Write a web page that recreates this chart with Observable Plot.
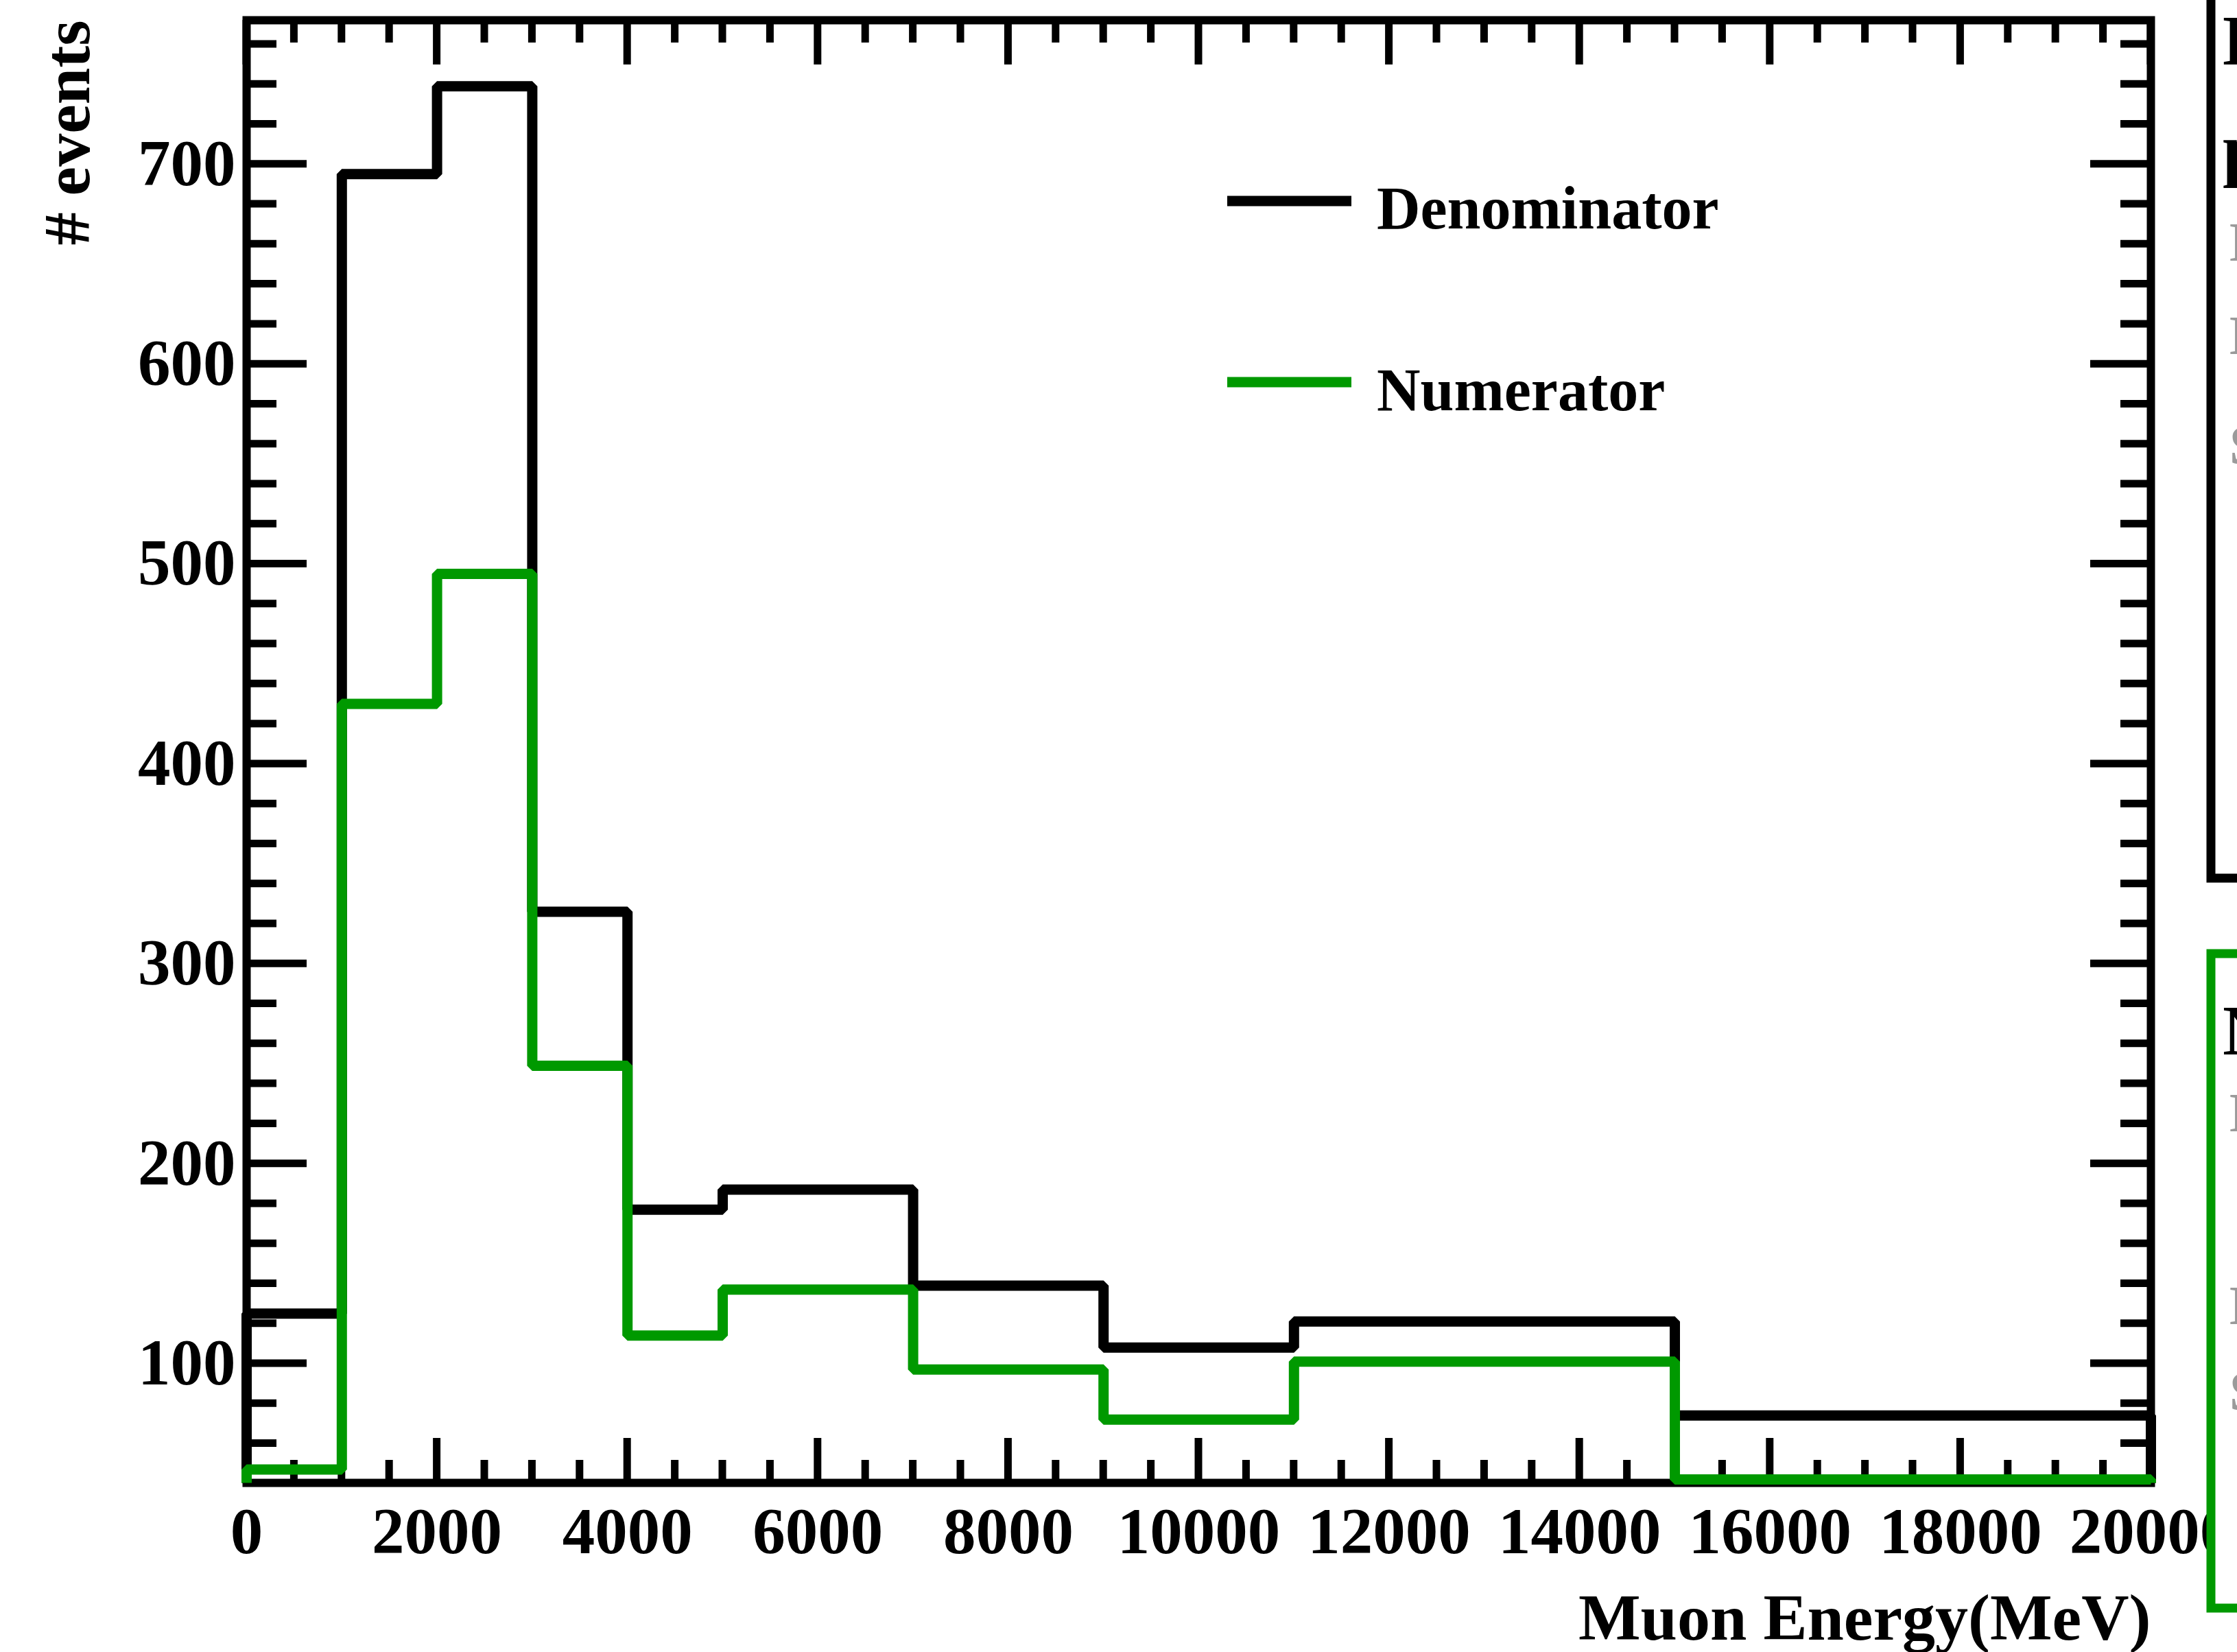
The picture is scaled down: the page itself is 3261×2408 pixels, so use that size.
<!DOCTYPE html>
<html><head><meta charset="utf-8">
<script src="https://cdn.jsdelivr.net/npm/d3@7"></script>
<script src="https://cdn.jsdelivr.net/npm/@observablehq/plot@0.6"></script>
<style>
html,body{margin:0;padding:0;background:#fff;overflow:hidden;}
</style></head><body><div id="chart"></div>
<script>
// ---- data ----
const binEdges = [0, 1000, 2000, 3000, 4000, 5000, 7000, 9000, 11000, 15000, 20000];
const denominator = [125, 695, 739, 326, 177, 187, 139, 108, 121, 74];
const numerator = [47, 430, 495, 249, 114, 137, 97, 72, 101, 42];
const seriesNames = ["Denominator", "Numerator"];
const seriesColors = ["#000000", "#009900"];
const xTicks = [0, 2000, 4000, 6000, 8000, 10000, 12000, 14000, 16000, 18000, 20000];
const xMinorTicks = d3.range(0, 20001, 500);
const yTicks = [100, 200, 300, 400, 500, 600, 700];
const yMinorTicks = d3.range(60, 761, 20);
const xLabel = "Muon Energy(MeV)";
const yLabel = "# events";
const statsLines = [["D", "p"], ["N"]];
const statsGrey = [["Entries", "Mean", "Std Dev"], ["Entries", "Mean", "Std Dev"]];
const xDomain = [0, 20000];
const yDomain = [40.3, 772];

const W = 3261, H = 2408;
const mL = 359, mR = W - 3135, mT = 29, mB = H - 2161;
const FONT = "'Liberation Serif', 'Times New Roman', serif";

function outline(values, series) {
  const pts = [{x: binEdges[0], y: yDomain[0], series}];
  values.forEach((v, i) => pts.push({x: binEdges[i], y: v, series}));
  pts.push({x: binEdges[binEdges.length - 1], y: values[values.length - 1], series});
  pts.push({x: binEdges[binEdges.length - 1], y: yDomain[0], series});
  return pts;
}
const denPts = outline(denominator, seriesNames[0]);
const numPts = outline(numerator, seriesNames[1]);

function ticksMark() {
  return (index, scales, values, dims) => {
    const {x, y} = scales;
    const L = dims.marginLeft, R = dims.width - dims.marginRight;
    const T = dims.marginTop, B = dims.height - dims.marginBottom;
    const g = d3.create("svg:g").attr("stroke", "black").attr("stroke-width", 11).attr("fill", "none");
    for (const t of xMinorTicks) {
      const len = xTicks.includes(t) ? 65 : 33, px = x(t);
      g.append("line").attr("x1", px).attr("x2", px).attr("y1", B).attr("y2", B - len);
      g.append("line").attr("x1", px).attr("x2", px).attr("y1", T).attr("y2", T + len);
    }
    for (const t of yMinorTicks) {
      const len = yTicks.includes(t) ? 88 : 44, py = y(t);
      g.append("line").attr("x1", L).attr("x2", L + len).attr("y1", py).attr("y2", py);
      g.append("line").attr("x1", R).attr("x2", R - len).attr("y1", py).attr("y2", py);
    }
    return g.node();
  };
}

function legendMark() {
  return (index, scales, values, dims) => {
    const g = d3.create("svg:g").attr("text-anchor", "start");
    const rows = [{y: 293, base: 333}, {y: 557, base: 598}];
    seriesNames.forEach((name, i) => {
      g.append("line").attr("x1", 1789).attr("x2", 1970).attr("y1", rows[i].y).attr("y2", rows[i].y)
        .attr("stroke", seriesColors[i]).attr("stroke-width", 15);
      g.append("text").attr("x", 2007).attr("y", rows[i].base).attr("font-size", 88)
        .attr("text-anchor", "start")
        .attr("font-weight", "bold").attr("font-family", FONT).attr("fill", "black").text(name);
    });
    return g.node();
  };
}

function statsMark() {
  return (index, scales, values, dims) => {
    const g = d3.create("svg:g").attr("text-anchor", "start");
    const boxes = [
      {y1: -30, y2: 1280, color: "#000000", bases: [94, 252], grey: [380, 516, 676]},
      {y1: 1390, y2: 2344, color: "#009900", bases: [1537], grey: [1649, 1930, 2055]}
    ];
    boxes.forEach((b, i) => {
      g.append("rect").attr("x", 3223).attr("y", b.y1).attr("width", 200).attr("height", b.y2 - b.y1)
        .attr("fill", "white").attr("stroke", b.color).attr("stroke-width", 13);
      statsLines[i].forEach((s, j) => {
        g.append("text").attr("x", 3240).attr("y", b.bases[j]).attr("font-size", 104)
          .attr("text-anchor", "start")
          .attr("font-weight", "bold").attr("font-family", FONT).attr("fill", "black").text(s);
      });
      statsGrey[i].forEach((s, j) => {
        g.append("text").attr("x", 3250).attr("y", b.grey[j]).attr("font-size", 80)
          .attr("text-anchor", "start")
          .attr("font-family", FONT).attr("fill", "#9a9a9a").text(s);
      });
    });
    return g.node();
  };
}

const chart = Plot.plot({
  width: W,
  height: H,
  marginLeft: mL, marginRight: mR, marginTop: mT, marginBottom: mB,
  style: `font-family: ${FONT}; font-weight: bold; background: white; color: black; overflow: hidden;`,
  x: {domain: xDomain, label: null},
  y: {domain: yDomain, label: null},
  marks: [
    Plot.frame({stroke: "black", strokeWidth: 12}),
    ticksMark(),
    Plot.axisX({ticks: xTicks, tickSize: 0, tickPadding: 35, fontSize: 95, fontWeight: "bold",
      tickFormat: d => String(d), label: null}),
    Plot.axisY({ticks: yTicks, tickSize: 0, tickPadding: 16, fontSize: 95, fontWeight: "bold",
      tickFormat: d => String(d), label: null}),
    Plot.line(denPts, {x: "x", y: "y", curve: "step-after", stroke: seriesColors[0], strokeWidth: 15,
      strokeLinejoin: "miter", strokeLinecap: "butt"}),
    Plot.line(numPts, {x: "x", y: "y", curve: "step-after", stroke: seriesColors[1], strokeWidth: 15,
      strokeLinejoin: "miter", strokeLinecap: "butt"}),
    Plot.text([xLabel], {text: d => d, frameAnchor: "bottom-right", textAnchor: "end", lineAnchor: "top",
      dy: 160, fontSize: 96, fontWeight: "bold", fill: "black"}),
    Plot.text([yLabel], {text: d => d, frameAnchor: "top-left", textAnchor: "end", lineAnchor: "top",
      rotate: -90, dx: -298, dy: 0, fontSize: 96, fontWeight: "bold", fill: "black"}),
    legendMark(),
    statsMark()
  ]
});
document.getElementById("chart").appendChild(chart);
</script>
</body></html>
